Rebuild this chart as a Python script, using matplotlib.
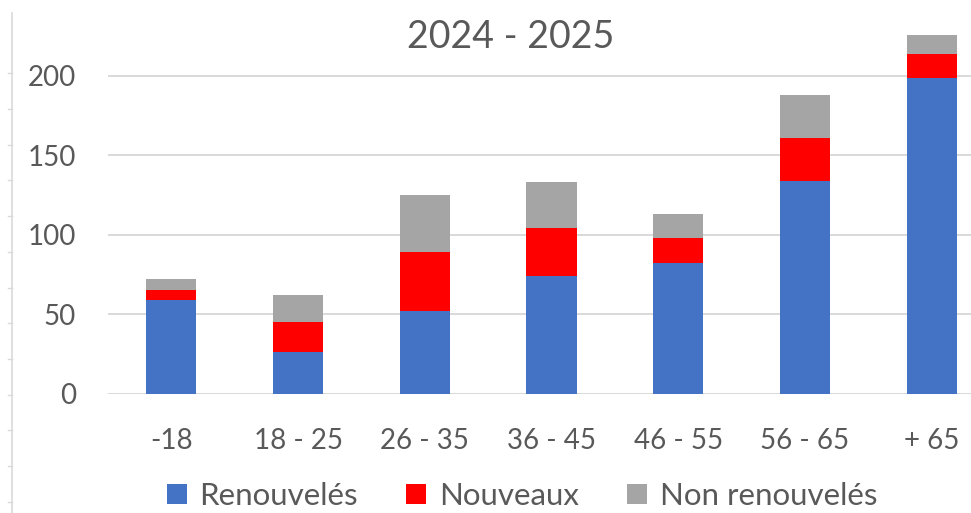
import matplotlib
matplotlib.use("Agg")
import matplotlib.pyplot as plt
from matplotlib.lines import Line2D
import numpy as np

plt.rcParams['font.family'] = ['Lato', 'DejaVu Sans']

title = "2024 - 2025"
categories = ["-18", "18 - 25", "26 - 35", "36 - 45", "46 - 55", "56 - 65", "+ 65"]
renouveles = [59, 26, 52, 74, 82, 134, 199]
nouveaux = [6, 19, 37, 30, 16, 27, 15]
non_renouveles = [7, 17, 36, 29, 15, 27, 12]
series_names = ["Renouvelés", "Nouveaux", "Non renouvelés"]
yticks = [0, 50, 100, 150, 200]

colors = ["#4472C4", "#FF0000", "#A5A5A5"]
text_color = "#595959"
grid_color = "#D9D9D9"

W, H = 971, 513
fig = plt.figure(figsize=(W / 100, H / 100), dpi=100)

# axes spans x 108..995 px, y 0 at 393.5 px from top
ax_left = 108 / W
ax_width = (995 - 108) / W
ymax = 240
px_per_unit = 1.5875
ax_bottom = (H - 393.5) / H
ax_height = ymax * px_per_unit / H
ax = fig.add_axes([ax_left, ax_bottom, ax_width, ax_height])

x = np.arange(len(categories))
width = 0.395
b1 = np.array(renouveles)
b2 = b1 + np.array(nouveaux)
ax.bar(x, renouveles, width, color=colors[0], label=series_names[0], zorder=3)
ax.bar(x, nouveaux, width, bottom=b1, color=colors[1], label=series_names[1], zorder=3)
ax.bar(x, non_renouveles, width, bottom=b2, color=colors[2], label=series_names[2], zorder=3)

ax.set_xlim(-0.5, len(categories) - 0.5)
ax.set_ylim(0, ymax)
ax.set_yticks(yticks)
ax.set_xticks(x)
ax.set_xticklabels(categories)
ax.tick_params(axis='both', length=0, colors=text_color, labelsize=20)
ax.tick_params(axis='y', pad=23)
ax.tick_params(axis='x', pad=25)
for s in ax.spines.values():
    s.set_visible(False)
ax.yaxis.grid(True, color=grid_color, linewidth=1.4, zorder=0)
ax.set_axisbelow(True)

fig.text(511 / W, 1 - 37.5 / H, title, ha='center', va='center',
         fontsize=27, color=text_color)

leg = fig.legend(loc='center', bbox_to_anchor=(522 / W, 1 - 496 / H),
                 ncol=3, frameon=False, fontsize=22.5,
                 handlelength=0.64, handleheight=0.64, handletextpad=0.4,
                 columnspacing=1.55, borderpad=0, borderaxespad=0)
for t in leg.get_texts():
    t.set_color(text_color)

# left border line of neighbouring element with small ticks
fig.add_artist(Line2D([12 / W, 12 / W], [0, 1 - 13 / H], color=grid_color,
                      linewidth=1.2, transform=fig.transFigure))
for yy in np.arange(73.3, H, 35.7):
    fig.add_artist(Line2D([8 / W, 12 / W], [1 - yy / H, 1 - yy / H],
                          color=grid_color, linewidth=1.0,
                          transform=fig.transFigure))

fig.savefig("out.png", dpi=100)
